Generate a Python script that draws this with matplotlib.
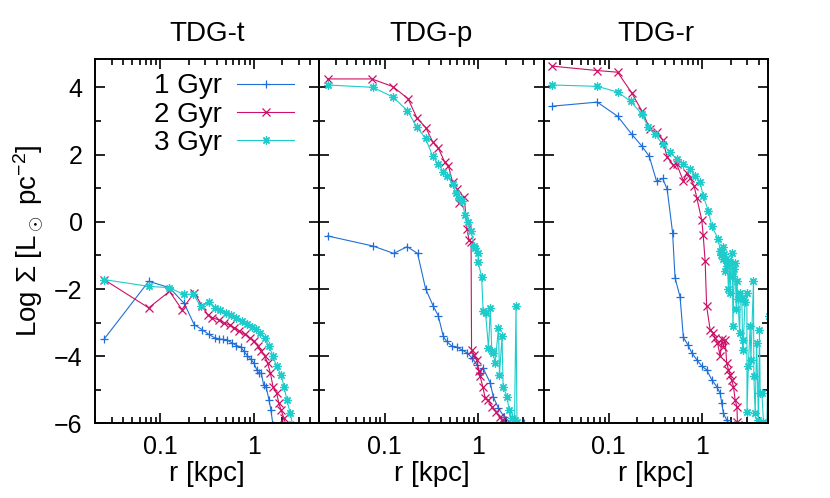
import matplotlib
matplotlib.use('Agg')
import matplotlib.pyplot as plt
from matplotlib.ticker import LogLocator, FixedLocator, MultipleLocator, NullFormatter

plt.rcParams['font.family'] = ['Liberation Sans', 'DejaVu Sans']
plt.rcParams['mathtext.fontset'] = 'custom'
plt.rcParams['mathtext.rm'] = 'Liberation Sans'
plt.rcParams['mathtext.it'] = 'Liberation Sans:italic'

titles = ['TDG-t', 'TDG-p', 'TDG-r']
labels = ['1 Gyr', '2 Gyr', '3 Gyr']
colors = ['#1f6fd6', '#cc1166', '#1ecccc']
markers = ['+', 'x', (8, 2, 0)]

# TDG-t
t_r1 = [0.025, 0.075, 0.125, 0.18, 0.23, 0.28, 0.33, 0.38, 0.42, 0.47, 0.52, 0.58, 0.65,
        0.72, 0.78, 0.85, 0.92, 1.0, 1.07, 1.12, 1.2, 1.27, 1.35, 1.45, 1.52, 1.6]
t_s1 = [-3.49, -1.77, -1.96, -2.43, -3.06, -3.21, -3.35, -3.45, -3.48, -3.5, -3.52, -3.6, -3.68,
        -3.72, -3.85, -3.98, -4.08, -4.2, -4.4, -4.5, -4.5, -4.85, -4.9, -5.3, -5.6, -6.05]
t_r2 = [0.025, 0.075, 0.125, 0.17, 0.23, 0.28, 0.32, 0.36, 0.42, 0.48, 0.55, 0.62, 0.7,
        0.8, 0.9, 1.0, 1.1, 1.2, 1.3, 1.4, 1.5, 1.6, 1.75, 1.85, 1.95, 2.1, 2.2]
t_s2 = [-1.72, -2.56, -2.07, -2.61, -2.11, -2.51, -2.76, -2.85, -2.92, -3.0, -3.08, -3.15, -3.25,
        -3.35, -3.45, -3.55, -3.7, -3.85, -3.98, -4.2, -4.5, -4.9, -5.1, -5.4, -5.6, -5.85, -6.05]
t_r3 = [0.025, 0.075, 0.125, 0.177, 0.225, 0.27, 0.33, 0.38, 0.43, 0.5, 0.57, 0.65, 0.75,
        0.85, 0.95, 1.05, 1.15, 1.3, 1.45, 1.6, 1.75, 1.95, 2.1, 2.25, 2.45, 2.6]
t_s3 = [-1.72, -1.92, -1.96, -2.16, -2.16, -2.51, -2.38, -2.55, -2.62, -2.7, -2.78, -2.86, -2.95,
        -3.05, -3.12, -3.2, -3.3, -3.45, -3.7, -4.0, -4.3, -4.55, -4.9, -5.3, -5.7, -6.05]

# TDG-p
p_r1 = [0.0245, 0.075, 0.125, 0.174, 0.225, 0.274, 0.331, 0.374, 0.424, 0.46, 0.52, 0.59,
        0.67, 0.76, 0.86, 0.97, 1.05, 1.13, 1.35, 1.45, 1.65, 1.9, 2.2, 3.07]
p_s1 = [-0.42, -0.72, -0.94, -0.74, -0.94, -1.99, -2.51, -2.79, -3.41, -3.56, -3.69, -3.73,
        -3.81, -3.9, -4.05, -4.25, -4.5, -4.35, -4.8, -5.2, -5.55, -5.8, -5.97, -6.0]
p_r2 = [0.0245, 0.073, 0.123, 0.178, 0.222, 0.276, 0.326, 0.374, 0.44, 0.48, 0.535, 0.59,
        0.63, 0.71, 0.76, 0.8, 0.84, 0.85, 0.9, 0.97, 1.02, 1.05, 1.12, 1.19, 1.28, 1.4,
        1.55, 1.7, 1.8, 1.9]
p_s2 = [4.25, 4.25, 4.02, 3.66, 3.08, 2.8, 2.38, 2.2, 1.77, 1.67, 1.17, 0.99,
        0.57, 0.74, -0.22, -0.55, -0.6, -3.8, -3.95, -4.1, -4.45, -4.6, -4.9, -5.25, -5.3, -5.5,
        -5.65, -5.8, -5.9, -6.05]
p_r3 = [0.0245, 0.075, 0.123, 0.175, 0.222, 0.274, 0.326, 0.374, 0.424, 0.467, 0.535, 0.575,
        0.62, 0.67, 0.724, 0.786, 0.84, 0.91, 0.93, 1.0, 1.0, 1.09, 1.13, 1.2, 1.29, 1.35,
        1.4, 1.44, 1.52, 1.65, 1.69, 1.8, 1.85, 2.03, 2.15, 2.3, 2.45, 2.54, 2.6]
p_s3 = [4.07, 4.0, 3.71, 3.31, 2.81, 2.48, 1.95, 1.72, 1.49, 1.37, 1.12, 0.87,
        0.7, 0.62, 0.2, 0.0, -0.27, -0.72, -0.77, -0.92, -1.2, -1.64, -2.66, -2.7, -3.76, -2.56,
        -3.85, -3.9, -4.2, -3.16, -4.55, -3.41, -4.9, -5.2, -5.6, -5.85, -5.9, -2.51, -5.95]

# TDG-r
r_r1 = [0.0249, 0.075, 0.124, 0.175, 0.224, 0.27, 0.324, 0.376, 0.42, 0.48, 0.51, 0.577,
        0.626, 0.7, 0.77, 0.87, 0.99, 1.11, 1.26, 1.42, 1.55, 1.61, 1.68, 1.82, 1.9]
r_s1 = [3.44, 3.56, 3.14, 2.61, 2.26, 1.95, 1.2, 1.29, 0.97, -0.32, -1.67, -2.23,
        -3.44, -3.66, -3.9, -4.1, -4.3, -4.4, -4.7, -4.9, -5.1, -5.4, -5.7, -5.9, -6.05]
r_r2 = [0.0249, 0.075, 0.124, 0.175, 0.224, 0.275, 0.324, 0.376, 0.42, 0.49, 0.53, 0.625,
        0.68, 0.74, 0.815, 0.87, 0.985, 1.02, 1.07, 1.11, 1.21, 1.3, 1.37, 1.45, 1.55, 1.62,
        1.68, 1.75, 1.82, 1.9, 1.98, 2.05, 2.15, 2.24, 2.34, 2.37, 2.43]
r_s2 = [4.63, 4.5, 4.45, 3.84, 3.31, 2.76, 2.66, 2.44, 1.92, 1.69, 1.72, 1.22,
        1.45, 1.3, 1.07, 0.72, 0.05, -0.4, -1.17, -2.51, -3.21, -3.3, -3.46, -3.6, -4.0, -3.5,
        -3.71, -3.51, -4.2, -4.4, -4.55, -4.7, -4.9, -5.3, -5.5, -5.95, -6.05]
r_r3 = [0.0249, 0.075, 0.124, 0.172, 0.224, 0.265, 0.31, 0.376, 0.45, 0.53, 0.625, 0.74,
        0.84, 0.945, 1.02, 1.16, 1.26, 1.48, 1.55, 1.6, 1.65, 1.68, 1.72, 1.75, 1.8, 1.85,
        1.9, 1.95, 1.98, 2.05, 2.1, 2.12, 2.2, 2.24, 2.3, 2.34, 2.4, 2.5, 2.55, 2.64,
        2.7, 2.75, 2.85, 2.99, 3.0, 3.1, 3.24, 3.3, 3.52, 3.55, 3.67, 3.8, 3.98, 4.08,
        4.15, 4.33, 4.5, 4.9, 5.1]
r_s3 = [4.07, 4.03, 3.86, 3.58, 3.21, 2.81, 2.61, 2.31, 2.07, 1.87, 1.72, 1.57,
        1.37, 1.17, 0.77, 0.32, -0.13, -0.52, -0.87, -1.0, -0.75, -1.12, -0.95, -1.47, -1.1, -1.3,
        -2.0, -1.2, -2.11, -0.92, -1.6, -3.09, -1.4, -1.22, -2.6, -1.77, -2.3, -3.3, -2.11, -2.26,
        -3.8, -3.51, -2.4, -2.11, -5.65, -4.3, -3.11, -4.1, -1.77, -4.6, -5.7, -3.6, -5.9, -3.23,
        -5.1, -5.1, -5.95, -6.05, -2.81]

panels = [
    [(t_r1, t_s1), (t_r2, t_s2), (t_r3, t_s3)],
    [(p_r1, p_s1), (p_r2, p_s2), (p_r3, p_s3)],
    [(r_r1, r_s1), (r_r2, r_s2), (r_r3, r_s3)],
]

fig = plt.figure(figsize=(8.3, 4.98), dpi=100)
axes = fig.subplots(1, 3, sharey=True, gridspec_kw={'wspace': 0})
fig.subplots_adjust(left=0.1145, right=0.925, bottom=0.1496, top=0.882)

for k, ax in enumerate(axes):
    for (r, s), c, m, lab in zip(panels[k], colors, markers, labels):
        ax.plot(r, s, color=c, lw=0.8, marker=m, ms=6, mew=0.9, label=lab)
    ax.set_xscale('log')
    ax.set_xlim(0.02, 5)
    ax.set_ylim(-6, 4.85)
    ax.xaxis.set_major_locator(FixedLocator([0.1, 1]))
    ax.xaxis.set_major_formatter(plt.FixedFormatter(['0.1', '1']))
    ax.xaxis.set_minor_locator(LogLocator(base=10, subs=range(2, 10)))
    ax.xaxis.set_minor_formatter(NullFormatter())
    ax.yaxis.set_major_locator(MultipleLocator(2))
    ax.yaxis.set_minor_locator(MultipleLocator(1))
    ax.tick_params(which='both', direction='in', top=True, right=True, width=1.2,
                   labelsize=18)
    ax.tick_params(axis='x', pad=8)
    ax.tick_params(axis='y', pad=9)
    ax.tick_params(which='major', length=7)
    ax.tick_params(which='minor', length=4)
    for sp in ax.spines.values():
        sp.set_linewidth(1.4)
    ax.set_title(titles[k], fontsize=20, pad=13)
    ax.set_xlabel('r [kpc]', fontsize=20, labelpad=2)
    if k > 0:
        ax.tick_params(labelleft=False)

axes[0].set_ylabel(r'Log $\Sigma$ [L$_\odot$ pc$^{-2}$]', fontsize=20, labelpad=6)
axes[0].legend(loc='upper right', bbox_to_anchor=(0.888, 0.96), frameon=False, fontsize=20,
               markerfirst=False, handlelength=2.05, handletextpad=0.54, labelspacing=0.08,
               borderaxespad=0, borderpad=0)

fig.savefig('out.png', dpi=100)
